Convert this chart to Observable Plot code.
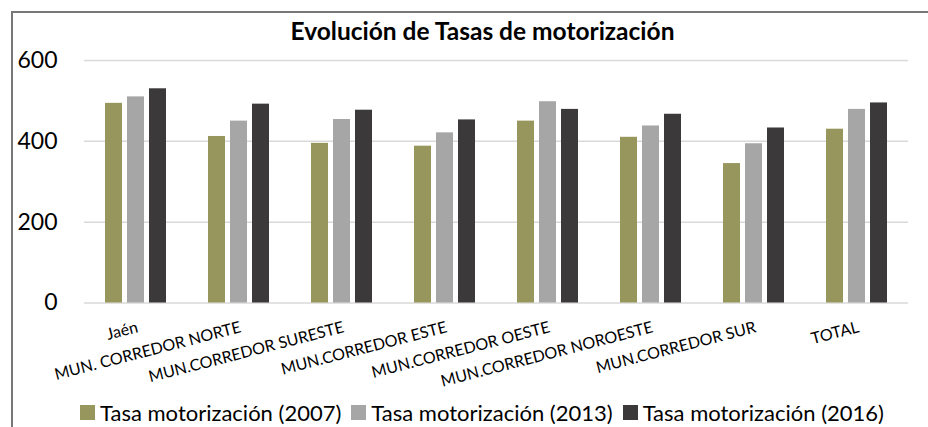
<!DOCTYPE html>
<html>
<head>
<meta charset="utf-8">
<script src="https://cdn.jsdelivr.net/npm/d3@7"></script>
<script src="https://cdn.jsdelivr.net/npm/@observablehq/plot@0.6"></script>
<style>
  html, body { margin: 0; padding: 0; background: #fff; }
  body { width: 928px; height: 427px; position: relative; overflow: hidden; font-family: Lato, "Open Sans", sans-serif; }
  #frame { position: absolute; left: 11px; top: 11px; width: 1000px; height: 500px; border: 2px solid #787878; box-sizing: border-box; }
  #title { position: absolute; left: 0; top: 16px; width: 965px; text-align: center; font-weight: bold; font-size: 24.5px; line-height: 1.2; color: #000; }
  #chart { position: absolute; left: 0; top: 44px; }
  #legend { position: absolute; left: 80px; top: 399px; display: flex; align-items: center; font-size: 22px; color: #000; white-space: nowrap; }
  .item { display: flex; align-items: center; margin-right: 10px; }
  .sw { width: 15px; height: 15px; margin-right: 5px; }
</style>
</head>
<body>
<div id="frame"></div>
<div id="title">Evolución de Tasas de motorización</div>
<div id="chart"></div>
<div id="legend"></div>
<script>
const categories = ["Jaén", "MUN. CORREDOR NORTE", "MUN.CORREDOR SURESTE", "MUN.CORREDOR ESTE", "MUN.CORREDOR OESTE", "MUN.CORREDOR NOROESTE", "MUN.CORREDOR SUR", "TOTAL"];
const seriesNames = ["Tasa motorización (2007)", "Tasa motorización (2013)", "Tasa motorización (2016)"];
const t2007 = [494, 412, 395, 388, 450, 410, 345, 430];
const t2013 = [510, 450, 454, 421, 498, 438, 394, 479];
const t2016 = [530, 492, 477, 453, 479, 467, 433, 495];
const colors = ["#97965d", "#a6a6a6", "#3b3939"];
const yTicks = [0, 200, 400, 600];

const values = [t2007, t2013, t2016];
const rows = [];
categories.forEach((c, i) => {
  seriesNames.forEach((s, j) => rows.push({category: c, series: s, value: values[j][i]}));
});

const plot = Plot.plot({
  width: 928,
  height: 350,
  marginLeft: 82,
  marginRight: 18,
  marginTop: 16,
  marginBottom: 91.5,
  style: {fontFamily: "Lato, sans-serif", background: "transparent"},
  fx: {domain: categories, padding: 0, axis: null},
  x: {domain: seriesNames, paddingInner: 0.2174, paddingOuter: 0.8587, axis: null},
  y: {domain: [0, 600], ticks: yTicks, axis: null},
  color: {domain: seriesNames, range: colors},
  marks: [
    Plot.gridY(yTicks, {stroke: "#d9d9d9", strokeOpacity: 1, strokeWidth: 1.5}),
    Plot.barY(rows, {fx: "category", x: "series", y: "value", fill: "series"}),
    Plot.axisY({ticks: yTicks, tickSize: 0, tickPadding: 27, fontSize: 23, fill: "#000", label: null}),
    Plot.text(categories, {fx: d => d, text: d => d, frameAnchor: "bottom", textAnchor: "end", lineAnchor: "top", rotate: -14.5, dy: 18, fontSize: 16, fill: "#000"})
  ]
});
document.getElementById("chart").appendChild(plot);

const legend = document.getElementById("legend");
seriesNames.forEach((s, j) => {
  const it = document.createElement("div");
  it.className = "item";
  const sw = document.createElement("div");
  sw.className = "sw";
  sw.style.background = colors[j];
  const tx = document.createElement("span");
  tx.textContent = s;
  it.appendChild(sw);
  it.appendChild(tx);
  legend.appendChild(it);
});
</script>
</body>
</html>
